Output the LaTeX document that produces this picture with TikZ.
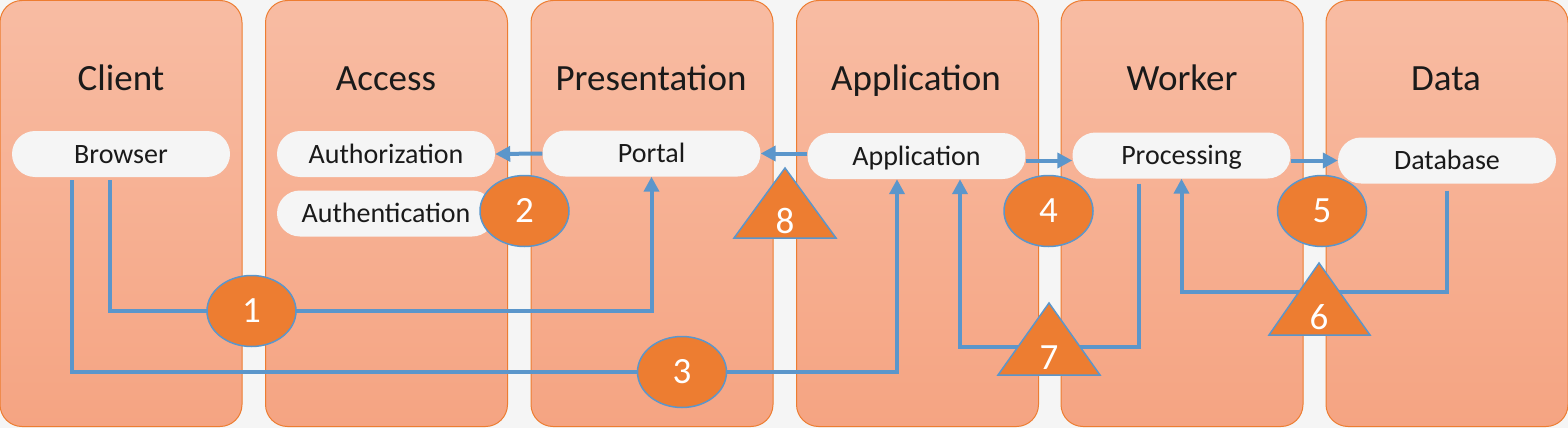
\documentclass[tikz,border=0pt]{standalone}
\usepackage{fontspec}
\setmainfont{Carlito}
\usetikzlibrary{arrows.meta,shapes.geometric,calc}
\definecolor{bg}{HTML}{F5F5F5}
\definecolor{colTop}{HTML}{F8BCA3}
\definecolor{colBot}{HTML}{F5A482}
\definecolor{orangeE}{HTML}{ED7D31}
\definecolor{blueL}{HTML}{5B96CB}
\definecolor{pillc}{HTML}{F5F5F5}
\definecolor{txt}{HTML}{1A1A1A}
\begin{document}
\begin{tikzpicture}[x=1pt,y=-1pt,
  colbox/.style={draw=orangeE, line width=1pt, rounded corners=22pt, top color=colTop, bottom color=colBot, minimum width=242pt, minimum height=426pt, inner sep=0pt},
  ttl/.style={font=\fontsize{37}{40}\selectfont, text=txt, text height=23.7pt, text depth=0pt, inner sep=0pt},
  pill/.style={fill=pillc, rounded corners=23pt, minimum width=218pt, minimum height=46pt, inner sep=0pt, font=\fontsize{28}{30}\selectfont, text=txt, text height=18pt, text depth=0pt},
  oval/.style={ellipse, fill=orangeE, draw=blueL, line width=1.5pt, minimum width=89pt, minimum height=71pt, inner sep=0pt, text=white, font=\fontsize{37}{40}\selectfont, text height=23.3pt, text depth=0pt},
  tri/.style={fill=orangeE, draw=blueL, line width=1.5pt, line join=miter},
  trilabel/.style={text=white, font=\fontsize{37}{40}\selectfont, text height=23.3pt, text depth=0pt, inner sep=0pt},
  conn/.style={draw=blueL, line width=4pt, line join=miter},
  arr/.style={conn, -{Triangle[length=15pt,width=15pt]}}
]
\useasboundingbox (0,0) rectangle (1568,428);
\fill[bg] (0,0) rectangle (1568,428);

% columns
\node[colbox] (colclient) at (121,213.5) {};
\node[colbox] (colaccess) at (386.5,213.5) {};
\node[colbox] (colpres) at (652,213.5) {};
\node[colbox] (colapp) at (917.5,213.5) {};
\node[colbox] (colworker) at (1182,213.5) {};
\node[colbox] (coldata) at (1447,213.5) {};

% titles
\node[ttl] (tclient) at (121,79) {Client};
\node[ttl] (taccess) at (386,79) {Access};
\node[ttl] (tpres) at (651,79) {Presentation};
\node[ttl] (tapp) at (916,79) {Application};
\node[ttl] (tworker) at (1182,79) {Worker};
\node[ttl] (tdata) at (1446,79) {Data};

% pills
\node[pill] (browser) at (121,154) {Browser};
\node[pill] (authz) at (386,154) {Authorization};
\node[pill] (authn) at (386,213.5) {Authentication};
\node[pill] (portal) at (651.5,153.5) {Portal};
\node[pill] (appl) at (916.5,156) {Application};
\node[pill] (proc) at (1181.5,155.5) {Processing};
\node[pill] (db) at (1447,160.5) {Database};

% helper coordinates
\coordinate (b1) at ([xshift=-11pt,yshift=-3pt]browser.south);
\coordinate (b3) at ([xshift=-49pt,yshift=-3pt]browser.south);
\coordinate (a3) at ([xshift=-19.5pt]appl.south);
\coordinate (a7) at ([xshift=43.5pt]appl.south);
\coordinate (p7) at ([xshift=-42.5pt,yshift=-5pt]proc.south);
\coordinate (d6) at ([yshift=-7pt]db.south);
\coordinate (r7) at (1049,347);
\coordinate (r6) at (1319,292);
\coordinate (r1) at (251.5,311);
\coordinate (r3) at (682,372);

% connectors
\draw[arr] (b1) |- (r1) -| (portal.south);
\draw[arr] (b3) |- (r3) -| (a3);
\draw[arr] (portal.west) -- (authz.east);
\draw[arr] (appl.west |- portal.east) -- (portal.east);
\draw[arr] (appl.east |- db.west) -- (proc.west |- db.west);
\draw[arr] (proc.east |- db.west) -- (db.west);
\draw[arr] (p7) |- (r7) -| (a7);
\draw[arr] (d6) |- (r6) -| (proc.south);

% markers
\node[oval] (c1) at (251.5,311) {1};
\node[oval] (c2) at (524.5,211) {2};
\node[oval] (c3) at (682,372) {3};
\node[oval] (c4) at (1048.5,211) {4};
\node[oval] (c5) at (1322,211) {5};

\draw[tri] (785,168) -- (836,238) -- (734,238) -- cycle;
\node[trilabel] (t8) at (785,221.5) {8};
\draw[tri] (1049,303) -- (1100,375) -- (998,375) -- cycle;
\node[trilabel] (t7) at (1049,357.5) {7};
\draw[tri] (1319,263) -- (1370,335) -- (1269,335) -- cycle;
\node[trilabel] (t6) at (1319,318) {6};
\end{tikzpicture}
\end{document}
